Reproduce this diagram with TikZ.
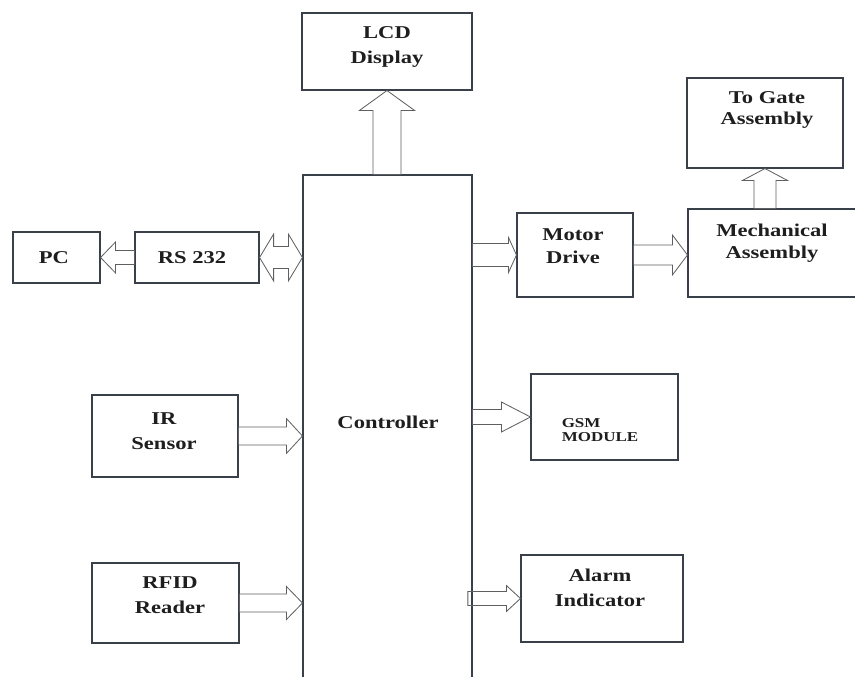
\documentclass[tikz,border=0pt]{standalone}
\usepackage{fontspec}
\usetikzlibrary{calc,positioning}
\newfontfamily\boxfont{Liberation Serif}[FakeStretch=1.25]
\definecolor{bdLine}{RGB}{58,64,74}
\definecolor{bdArrow}{RGB}{95,95,95}
\definecolor{bdInk}{RGB}{30,30,30}
\tikzset{
  blockbox/.style={draw=bdLine,line width=0.9pt,inner sep=0pt},
  blocktext/.style={font=\boxfont\bfseries\fontsize{15.4}{21}\selectfont,align=center,text=bdInk,inner sep=0pt},
  blockline/.style={draw=bdArrow,line width=0.7pt,line join=miter}
}
% #1 start, #2 tip, #3 shaft half width, #4 head half width, #5 head length
\newcommand{\hollowarrow}[5]{%
  \draw[blockline] let \p1=(#1), \p2=(#2),
    \n1={veclen(\x2-\x1,\y2-\y1)}, \n2={(\x2-\x1)/\n1}, \n3={(\y2-\y1)/\n1} in
    ({\x1-#3*(\n3)},{\y1+#3*(\n2)})
    -- ({\x2-#5*(\n2)-#3*(\n3)},{\y2-#5*(\n3)+#3*(\n2)})
    -- ({\x2-#5*(\n2)-#4*(\n3)},{\y2-#5*(\n3)+#4*(\n2)})
    -- (\x2,\y2)
    -- ({\x2-#5*(\n2)+#4*(\n3)},{\y2-#5*(\n3)-#4*(\n2)})
    -- ({\x2-#5*(\n2)+#3*(\n3)},{\y2-#5*(\n3)-#3*(\n2)})
    -- ({\x1+#3*(\n3)},{\y1-#3*(\n2)}) -- cycle;
}
\newcommand{\hollowdarrow}[5]{%
  \draw[blockline] let \p1=(#1), \p2=(#2),
    \n1={veclen(\x2-\x1,\y2-\y1)}, \n2={(\x2-\x1)/\n1}, \n3={(\y2-\y1)/\n1} in
    (\x1,\y1)
    -- ({\x1+#5*(\n2)-#4*(\n3)},{\y1+#5*(\n3)+#4*(\n2)})
    -- ({\x1+#5*(\n2)-#3*(\n3)},{\y1+#5*(\n3)+#3*(\n2)})
    -- ({\x2-#5*(\n2)-#3*(\n3)},{\y2-#5*(\n3)+#3*(\n2)})
    -- ({\x2-#5*(\n2)-#4*(\n3)},{\y2-#5*(\n3)+#4*(\n2)})
    -- (\x2,\y2)
    -- ({\x2-#5*(\n2)+#4*(\n3)},{\y2-#5*(\n3)-#4*(\n2)})
    -- ({\x2-#5*(\n2)+#3*(\n3)},{\y2-#5*(\n3)-#3*(\n2)})
    -- ({\x1+#5*(\n2)+#3*(\n3)},{\y1+#5*(\n3)-#3*(\n2)})
    -- ({\x1+#5*(\n2)+#4*(\n3)},{\y1+#5*(\n3)-#4*(\n2)}) -- cycle;
}

\begin{document}
\begin{tikzpicture}[x=0.03cm,y=-0.03cm]
  \path[fill=white,use as bounding box] (0,0) rectangle (855,677);

  % boxes
  \node[blockbox,minimum width=5.10cm,minimum height=2.31cm]  (lcd)   at (387,51.5)  {};
  \node[blockbox,minimum width=5.07cm,minimum height=15.75cm] (ctrl)  at (387.5,437.5) {};
  \node[blockbox,minimum width=2.61cm,minimum height=1.53cm]  (pc)    at (56.5,257.5) {};
  \node[blockbox,minimum width=3.72cm,minimum height=1.53cm]  (rs)    at (197,257.5) {};
  \node[blockbox,minimum width=3.48cm,minimum height=2.52cm]  (motor) at (575,255)   {};
  \node[blockbox,minimum width=6.36cm,minimum height=2.64cm]  (mech)  at (794,253)   {};
  \node[blockbox,minimum width=4.68cm,minimum height=2.70cm]  (gate)  at (765,123)   {};
  \node[blockbox,minimum width=4.38cm,minimum height=2.46cm]  (ir)    at (165,436)   {};
  \node[blockbox,minimum width=4.41cm,minimum height=2.58cm]  (gsm)   at (604.5,417) {};
  \node[blockbox,minimum width=4.41cm,minimum height=2.40cm]  (rfid)  at (165.5,603) {};
  \node[blockbox,minimum width=4.86cm,minimum height=2.61cm]  (alarm) at (602,598.5) {};

  % labels
  \node[blocktext] (lcd-t)   at (387,47)  {LCD\\Display};
  \node[blocktext] (ctrl-t)  at (388,422) {Controller};
  \node[blocktext] (pc-t)    at (54,258)  {PC};
  \node[blocktext] (rs-t)    at (192,258) {RS 232};
  \node[blocktext] (motor-t) at (573,246) {Motor\\[-1.5pt]Drive};
  \node[blocktext] (mech-t)  at (772,243) {Mechanical\\[-2pt]Assembly};
  \node[blocktext] (gate-t)  at (767,110) {To Gate\\[-3pt]Assembly};
  \node[blocktext] (ir-t)    at (164,431) {IR\\Sensor};
  \node[blocktext] (rfid-t)  at (170,595) {RFID\\Reader};
  \node[blocktext] (alarm-t) at (600,588) {Alarm\\Indicator};
  \node[blocktext,align=left,font=\boxfont\bfseries\fontsize{11.6}{12}\selectfont]
    (gsm-t) at (600,430) {GSM\\MODULE};

  % arrows
  \hollowarrow{lcd.south |- ctrl.north}{lcd.south}{12pt}{23.5pt}{17pt}
  \hollowarrow{rs.west}{pc.east}{6pt}{13.2pt}{12.8pt}
  \hollowdarrow{rs.east}{ctrl.west |- rs.east}{9.4pt}{20pt}{12pt}
  \hollowarrow{ctrl.east |- motor.west}{motor.west}{9.8pt}{14.9pt}{6.8pt}
  \hollowarrow{motor.east}{mech.west |- motor.east}{8.5pt}{17pt}{12.8pt}
  \hollowarrow{gate.south |- mech.north}{gate.south}{9.4pt}{19.2pt}{10.2pt}
  \hollowarrow{ir.east}{ctrl.west |- ir.east}{7.7pt}{14.9pt}{13.7pt}
  \hollowarrow{ctrl.east |- gsm.west}{gsm.west}{6.4pt}{12.8pt}{24.8pt}
  \hollowarrow{rfid.east}{ctrl.west |- rfid.east}{7.7pt}{14.1pt}{13.7pt}
  \hollowarrow{$(ctrl.east |- alarm.west)+(-4pt,0)$}{alarm.west}{6pt}{11.1pt}{12pt}
\end{tikzpicture}
\end{document}
